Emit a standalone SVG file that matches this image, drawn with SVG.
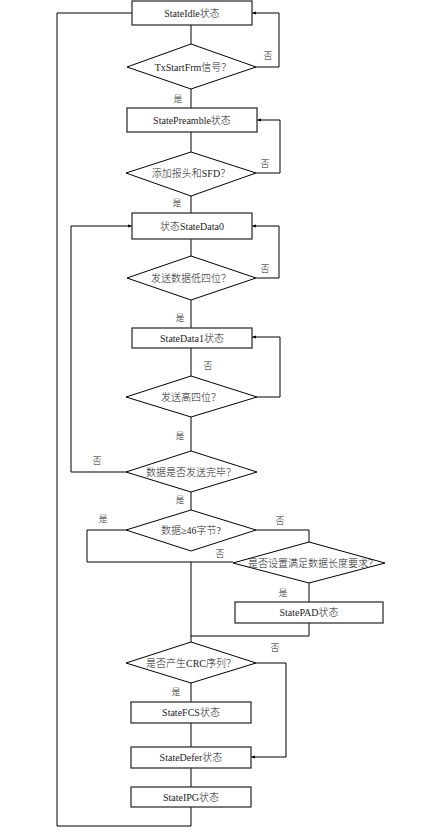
<svg xmlns="http://www.w3.org/2000/svg" width="429" height="836" viewBox="0 0 429 836">
<defs>
<marker id="ah" markerWidth="4" markerHeight="4" refX="4" refY="2" orient="auto" markerUnits="userSpaceOnUse">
<path d="M0,0.5 L4,2 L0,3.5 Z" fill="#000"/>
</marker>
<style>
.box{fill:#fff;stroke:#333;stroke-width:1.3}
.dia{fill:#fff;stroke:#000;stroke-width:1}
.ln{fill:none;stroke:#000;stroke-width:1}
.t{font-family:"Liberation Serif","Noto Sans CJK SC",serif;font-size:10px;font-weight:300;fill:#222;text-anchor:middle;dominant-baseline:central}
.lb{font-family:"Noto Sans CJK SC","Liberation Serif",serif;font-size:9px;font-weight:300;fill:#222;text-anchor:middle;dominant-baseline:central}
</style>
</defs>
<rect width="429" height="836" fill="#fff"/>
<g id="connectors">
<path class="ln" d="M191,25 V44"/>
<path class="ln" d="M191,89 V108"/>
<path class="ln" d="M256,67 H279 V13 H252" marker-end="url(#ah)"/>
<path class="ln" d="M191,132 V152"/>
<path class="ln" d="M256,173 H280 V120 H257" marker-end="url(#ah)"/>
<path class="ln" d="M191,196 V213"/>
<path class="ln" d="M191,239 V256"/>
<path class="ln" d="M256,278 H279 V226 H252" marker-end="url(#ah)"/>
<path class="ln" d="M191,300 V328"/>
<path class="ln" d="M191,348 V376"/>
<path class="ln" d="M257,397 H280 V337 H252" marker-end="url(#ah)"/>
<path class="ln" d="M191,417 V451"/>
<path class="ln" d="M126,472 H71 V226 H132" marker-end="url(#ah)"/>
<path class="ln" d="M191,492 V510"/>
<path class="ln" d="M126,530 H87 V562 H233"/>
<path class="ln" d="M256,530 H309 V542"/>
<path class="ln" d="M309,583 V602"/>
<path class="ln" d="M309,623 V636 H191"/>
<path class="ln" d="M191,562 V642"/>
<path class="ln" d="M256,663 H286 V757 H251" marker-end="url(#ah)"/>
<path class="ln" d="M191,683 V702"/>
<path class="ln" d="M191,723 V747"/>
<path class="ln" d="M191,768 V787"/>
<path class="ln" d="M191,807 V826 H57 V13 H132"/>
</g>
<g id="labels">
<text class="lb" x="268" y="55">否</text>
<text class="lb" x="178" y="98">是</text>
<text class="lb" x="265" y="163">否</text>
<text class="lb" x="177" y="202">是</text>
<text class="lb" x="265" y="268">否</text>
<text class="lb" x="180" y="317">是</text>
<text class="lb" x="208" y="365">否</text>
<text class="lb" x="180" y="435">是</text>
<text class="lb" x="97" y="460">否</text>
<text class="lb" x="180" y="499">是</text>
<text class="lb" x="103" y="518">是</text>
<text class="lb" x="280" y="520">否</text>
<text class="lb" x="220" y="553">否</text>
<text class="lb" x="283" y="592">是</text>
<text class="lb" x="275" y="647">否</text>
<text class="lb" x="176" y="691">是</text>
</g>
<g id="n1"><rect class="box" x="132" y="1" width="120" height="24"/><text class="t" x="192" y="13">StateIdle状态</text></g>
<g id="d1"><polygon class="dia" points="191,44 256,67 191,89 127,67"/><text class="t" x="193" y="67">TxStartFrm信号？</text></g>
<g id="n2"><rect class="box" x="127" y="108" width="130" height="24"/><text class="t" x="192" y="120">StatePreamble状态</text></g>
<g id="d2"><polygon class="dia" points="191,152 256,173 191,196 126,173"/><text class="t" x="191" y="173">添加报头和SFD？</text></g>
<g id="n3"><rect class="box" x="132" y="213" width="120" height="26"/><text class="t" x="192" y="226">状态StateData0</text></g>
<g id="d3"><polygon class="dia" points="191,256 256,278 191,300 127,278"/><text class="t" x="191" y="278">发送数据低四位？</text></g>
<g id="n4"><rect class="box" x="132" y="328" width="120" height="20"/><text class="t" x="192" y="338">StateData1状态</text></g>
<g id="d4"><polygon class="dia" points="191,376 257,397 191,417 126,397"/><text class="t" x="191" y="397">发送高四位？</text></g>
<g id="d5"><polygon class="dia" points="191,451 257,472 191,492 126,472"/><text class="t" x="191" y="472">数据是否发送完毕？</text></g>
<g id="d6"><polygon class="dia" points="191,510 256,530 191,551 126,530"/><text class="t" x="191" y="530">数据≥46字节?</text></g>
<g id="d7"><polygon class="dia" points="309,542 385,563 309,583 233,563"/><text class="t" x="313" y="563">是否设置满足数据长度要求？</text></g>
<g id="n5"><rect class="box" x="235" y="602" width="148" height="21"/><text class="t" x="309" y="612">StatePAD状态</text></g>
<g id="d8"><polygon class="dia" points="191,642 256,663 191,683 126,663"/><text class="t" x="191" y="663">是否产生CRC序列？</text></g>
<g id="n6"><rect class="box" x="131" y="702" width="120" height="21"/><text class="t" x="191" y="712">StateFCS状态</text></g>
<g id="n7"><rect class="box" x="131" y="747" width="120" height="21"/><text class="t" x="191" y="757">StateDefer状态</text></g>
<g id="n8"><rect class="box" x="131" y="787" width="120" height="20"/><text class="t" x="191" y="797">StateIPG状态</text></g>
</svg>
